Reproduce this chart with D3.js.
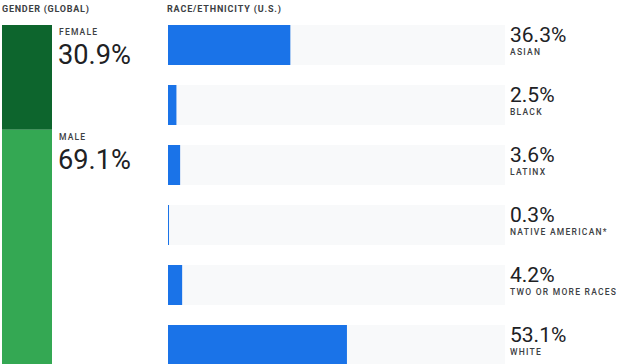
<!DOCTYPE html>
<html><head><meta charset="utf-8">
<script src="https://cdn.jsdelivr.net/npm/d3@7"></script>
<style>
html,body{margin:0;padding:0;background:#fff;}
svg{display:block;font-family:Roboto, "Noto Sans", sans-serif;}
</style></head>
<body>
<svg id="chart" width="620" height="364"></svg>
<script>
const genderCategories = ["FEMALE", "MALE"];
const genderValues = [30.9, 69.1];
const genderColors = ["#0d652d", "#34a853"];
const raceCategories = ["ASIAN", "BLACK", "LATINX", "NATIVE AMERICAN*", "TWO OR MORE RACES", "WHITE"];
const raceValues = [36.3, 2.5, 3.6, 0.3, 4.2, 53.1];
const titles = ["GENDER (GLOBAL)", "RACE/ETHNICITY (U.S.)"];

const svg = d3.select("#chart");
const textDark = "#202124";
const labelColor = "#3c4043";

// Titles
svg.append("text").attr("x", 2).attr("y", 12).text(titles[0])
  .attr("font-size", 9).attr("font-weight", 700).attr("letter-spacing", 0.75).attr("fill", labelColor);
svg.append("text").attr("x", 167).attr("y", 12).text(titles[1])
  .attr("font-size", 9).attr("font-weight", 700).attr("letter-spacing", 0.85).attr("fill", labelColor);

// Gender stacked bar
const gTop = 25, gBottom = 364;
const yG = d3.scaleLinear().domain([0, 100]).range([gTop, gBottom]);
let cum = 0;
const gData = genderCategories.map((c, i) => { const d = {cat: c, v: genderValues[i], y0: cum}; cum += genderValues[i]; return d; });
const gg = svg.append("g");
gg.selectAll("rect").data(gData).join("rect")
  .attr("x", 2).attr("width", 50)
  .attr("y", d => yG(d.y0)).attr("height", d => yG(d.y0 + d.v) - yG(d.y0))
  .attr("fill", (d, i) => genderColors[i]);
gg.selectAll("text.cat").data(gData).join("text").attr("class", "cat")
  .attr("x", 59).attr("y", d => yG(d.y0) + 10).text(d => d.cat)
  .attr("font-size", 8.5).attr("font-weight", 500).attr("letter-spacing", 1.2).attr("fill", labelColor);
gg.selectAll("text.val").data(gData).join("text").attr("class", "val")
  .attr("x", 58).attr("y", d => yG(d.y0) + 39).text(d => d.v.toFixed(1) + "%")
  .attr("font-size", 27.2).attr("fill", textDark);

// Race bars
const x = d3.scaleLinear().domain([0, 100]).range([168, 505]);
const y = d3.scaleBand().domain(raceCategories).range([25, 365]).paddingInner(1/3).paddingOuter(0);
const rows = svg.append("g").selectAll("g").data(raceCategories.map((c, i) => ({cat: c, v: raceValues[i]}))).join("g")
  .attr("transform", d => `translate(0,${y(d.cat)})`);
rows.append("rect").attr("x", x(0)).attr("width", x(100) - x(0)).attr("height", y.bandwidth()).attr("fill", "#f8f9fa");
rows.append("rect").attr("x", x(0)).attr("width", d => x(d.v) - x(0)).attr("height", y.bandwidth()).attr("fill", "#1a73e8");
rows.append("text").attr("x", 510).attr("y", 17).text(d => d.v.toFixed(1) + "%")
  .attr("font-size", 21).attr("fill", textDark);
rows.append("text").attr("x", 510).attr("y", 30).text(d => d.cat)
  .attr("font-size", 8.5).attr("font-weight", 500).attr("letter-spacing", 1.25).attr("fill", labelColor);
</script>
</body></html>
